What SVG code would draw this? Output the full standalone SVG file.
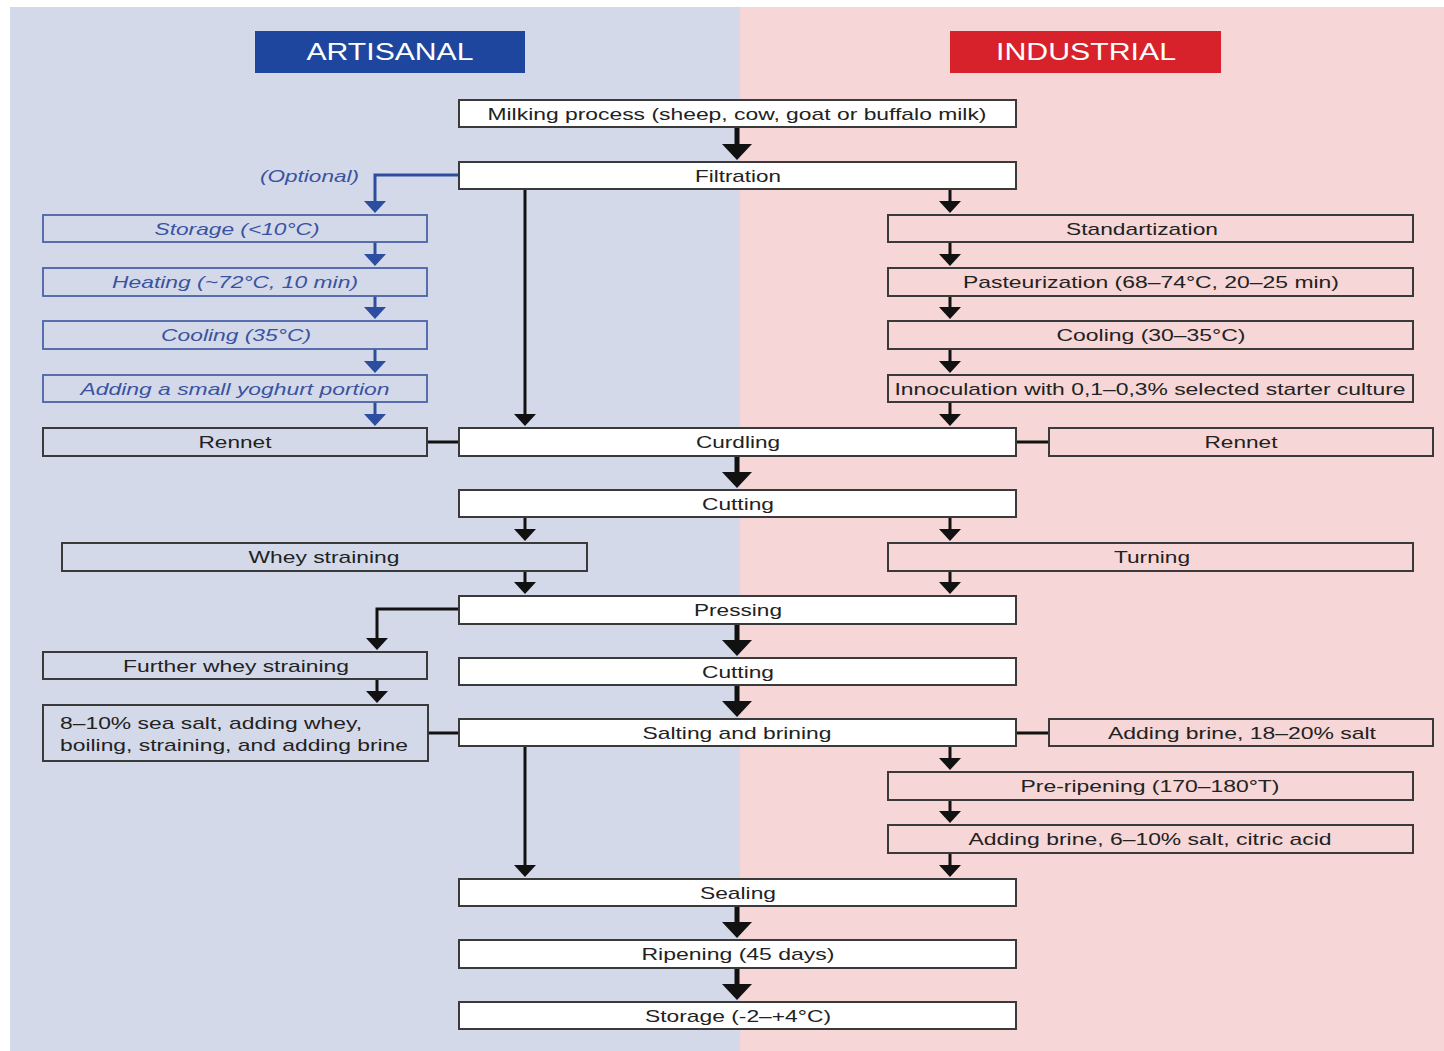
<svg xmlns="http://www.w3.org/2000/svg" width="1444" height="1051" viewBox="0 0 1444 1051">
<style>
text{font-family:"Liberation Sans",Arial,sans-serif;font-size:17px;fill:#222;text-anchor:middle}
.blt{fill:#3a53a0;font-style:italic}
.hd{fill:#fff;font-size:23px}
.wb{fill:#fff;stroke:#3a3a3a;stroke-width:2}
.tb{fill:none;stroke:#3a3a3a;stroke-width:2}
.bb{fill:none;stroke:#4a62a8;stroke-width:1.8}
.s{stroke:#111;stroke-width:3;fill:none}
.b{stroke:#111;stroke-width:5;fill:none}
.bl{stroke:#2d4ea0;stroke-width:3;fill:none}
.s,.bl{marker-end:url(#ah)}
.b{marker-end:url(#ahb)}
.bl{marker-end:url(#ahbl)}
.j{stroke:#111;stroke-width:3}
</style>
<defs>
<marker id="ah" markerUnits="userSpaceOnUse" viewBox="0 -11 12 22" refX="2" refY="0" markerWidth="12" markerHeight="22" orient="auto"><path d="M0,-11 L12,0 L0,11 z" fill="#111"/></marker>
<marker id="ahbl" markerUnits="userSpaceOnUse" viewBox="0 -11 12 22" refX="2" refY="0" markerWidth="12" markerHeight="22" orient="auto"><path d="M0,-11 L12,0 L0,11 z" fill="#2d4ea0"/></marker>
<marker id="ahb" markerUnits="userSpaceOnUse" viewBox="0 -15 16 30" refX="3" refY="0" markerWidth="16" markerHeight="30" orient="auto"><path d="M0,-15 L16,0 L0,15 z" fill="#111"/></marker>
</defs>
<rect x="0" y="0" width="1444" height="1051" fill="#fff"/>
<rect x="10" y="7" width="730" height="1044" fill="#d3d9e9"/>
<rect x="740" y="7" width="704" height="1044" fill="#f6d6d6"/>

<g id="hdr-artisanal"><rect x="255" y="31" width="270" height="42" fill="#1f469e"/><text class="hd" x="390" y="60" textLength="167" lengthAdjust="spacingAndGlyphs">ARTISANAL</text></g>
<g id="hdr-industrial"><rect x="950" y="31" width="271" height="42" fill="#d8222b"/><text class="hd" x="1086" y="60" textLength="180" lengthAdjust="spacingAndGlyphs">INDUSTRIAL</text></g>

<g id="connectors">
<path class="b" d="M737,127 V147"/>
<path class="bl" d="M459,175 H375 V203"/>
<text class="blt" x="359" y="182" style="text-anchor:end" textLength="99" lengthAdjust="spacingAndGlyphs">(Optional)</text>
<path class="bl" d="M375,242 V256"/>
<path class="bl" d="M375,296 V309"/>
<path class="bl" d="M375,349 V363"/>
<path class="bl" d="M375,402 V416"/>
<path class="s" d="M525,189 V416"/>
<path class="s" d="M950,189 V203"/>
<path class="s" d="M950,242 V256"/>
<path class="s" d="M950,296 V309"/>
<path class="s" d="M950,349 V363"/>
<path class="s" d="M950,402 V416"/>
<line class="j" x1="427" y1="442" x2="459" y2="442"/>
<line class="j" x1="1016" y1="442" x2="1049" y2="442"/>
<path class="b" d="M737,456 V475"/>
<path class="s" d="M525,517 V531"/>
<path class="s" d="M950,517 V531"/>
<path class="s" d="M525,571 V584"/>
<path class="s" d="M950,571 V584"/>
<path class="s" d="M459,609 H377 V640"/>
<path class="b" d="M737,624 V643"/>
<path class="s" d="M377,679 V693"/>
<path class="b" d="M737,685 V704"/>
<line class="j" x1="428" y1="733" x2="459" y2="733"/>
<line class="j" x1="1016" y1="733" x2="1049" y2="733"/>
<path class="s" d="M525,746 V867"/>
<path class="s" d="M950,746 V760"/>
<path class="s" d="M950,800 V813"/>
<path class="s" d="M950,853 V867"/>
<path class="b" d="M737,906 V925"/>
<path class="b" d="M737,968 V987"/>
</g>

<g id="milking"><rect class="wb" x="459" y="100" width="557" height="27"/><text x="737" y="119.5" textLength="499" lengthAdjust="spacingAndGlyphs">Milking process (sheep, cow, goat or buffalo milk)</text></g>
<g id="filtration"><rect class="wb" x="459" y="162" width="557" height="27"/><text x="738" y="181.5" textLength="86" lengthAdjust="spacingAndGlyphs">Filtration</text></g>

<g id="storage-a"><rect class="bb" x="43" y="215" width="384" height="27"/><text class="blt" x="237" y="234.5" textLength="165" lengthAdjust="spacingAndGlyphs">Storage (&lt;10°C)</text></g>
<g id="heating-a"><rect class="bb" x="43" y="268" width="384" height="28"/><text class="blt" x="235" y="288" textLength="246" lengthAdjust="spacingAndGlyphs">Heating (~72°C, 10 min)</text></g>
<g id="cooling-a"><rect class="bb" x="43" y="321" width="384" height="28"/><text class="blt" x="236" y="341" textLength="150" lengthAdjust="spacingAndGlyphs">Cooling (35°C)</text></g>
<g id="yoghurt-a"><rect class="bb" x="43" y="375" width="384" height="27"/><text class="blt" x="235" y="394.5" textLength="309" lengthAdjust="spacingAndGlyphs">Adding a small yoghurt portion</text></g>
<g id="rennet-a"><rect class="tb" x="43" y="428" width="384" height="28"/><text x="235" y="448" textLength="73" lengthAdjust="spacingAndGlyphs">Rennet</text></g>

<g id="standartization"><rect class="tb" x="888" y="215" width="525" height="27"/><text x="1142" y="234.5" textLength="152" lengthAdjust="spacingAndGlyphs">Standartization</text></g>
<g id="pasteurization"><rect class="tb" x="888" y="268" width="525" height="28"/><text x="1151" y="288" textLength="376" lengthAdjust="spacingAndGlyphs">Pasteurization (68–74°C, 20–25 min)</text></g>
<g id="cooling-i"><rect class="tb" x="888" y="321" width="525" height="28"/><text x="1151" y="341" textLength="189" lengthAdjust="spacingAndGlyphs">Cooling (30–35°C)</text></g>
<g id="innoculation"><rect class="tb" x="888" y="375" width="525" height="27"/><text x="1150" y="394.5" textLength="511" lengthAdjust="spacingAndGlyphs">Innoculation with 0,1–0,3% selected starter culture</text></g>
<g id="rennet-i"><rect class="tb" x="1049" y="428" width="384" height="28"/><text x="1241" y="448" textLength="73" lengthAdjust="spacingAndGlyphs">Rennet</text></g>

<g id="curdling"><rect class="wb" x="459" y="428" width="557" height="28"/><text x="738" y="448" textLength="84" lengthAdjust="spacingAndGlyphs">Curdling</text></g>
<g id="cutting1"><rect class="wb" x="459" y="490" width="557" height="27"/><text x="738" y="509.5" textLength="72" lengthAdjust="spacingAndGlyphs">Cutting</text></g>
<g id="whey"><rect class="tb" x="62" y="543" width="525" height="28"/><text x="324" y="563" textLength="151" lengthAdjust="spacingAndGlyphs">Whey straining</text></g>
<g id="turning"><rect class="tb" x="888" y="543" width="525" height="28"/><text x="1152" y="563" textLength="76" lengthAdjust="spacingAndGlyphs">Turning</text></g>
<g id="pressing"><rect class="wb" x="459" y="596" width="557" height="28"/><text x="738" y="616" textLength="88" lengthAdjust="spacingAndGlyphs">Pressing</text></g>
<g id="further-whey"><rect class="tb" x="43" y="652" width="384" height="27"/><text x="236" y="671.5" textLength="226" lengthAdjust="spacingAndGlyphs">Further whey straining</text></g>
<g id="cutting2"><rect class="wb" x="459" y="658" width="557" height="27"/><text x="738" y="677.5" textLength="72" lengthAdjust="spacingAndGlyphs">Cutting</text></g>
<g id="sea-salt"><rect class="tb" x="43" y="705" width="385" height="56"/><text x="60" y="729" style="text-anchor:start" textLength="302" lengthAdjust="spacingAndGlyphs">8–10% sea salt, adding whey,</text><text x="60" y="751" style="text-anchor:start" textLength="348" lengthAdjust="spacingAndGlyphs">boiling, straining, and adding brine</text></g>
<g id="salting"><rect class="wb" x="459" y="719" width="557" height="27"/><text x="737" y="738.5" textLength="189" lengthAdjust="spacingAndGlyphs">Salting and brining</text></g>
<g id="brine18"><rect class="tb" x="1049" y="719" width="384" height="27"/><text x="1242" y="738.5" textLength="268" lengthAdjust="spacingAndGlyphs">Adding brine, 18–20% salt</text></g>
<g id="preripening"><rect class="tb" x="888" y="772" width="525" height="28"/><text x="1150" y="792" textLength="259" lengthAdjust="spacingAndGlyphs">Pre-ripening (170–180°T)</text></g>
<g id="brine6"><rect class="tb" x="888" y="825" width="525" height="28"/><text x="1150" y="845" textLength="363" lengthAdjust="spacingAndGlyphs">Adding brine, 6–10% salt, citric acid</text></g>
<g id="sealing"><rect class="wb" x="459" y="879" width="557" height="27"/><text x="738" y="898.5" textLength="76" lengthAdjust="spacingAndGlyphs">Sealing</text></g>
<g id="ripening"><rect class="wb" x="459" y="940" width="557" height="28"/><text x="738" y="960" textLength="193" lengthAdjust="spacingAndGlyphs">Ripening (45 days)</text></g>
<g id="storage"><rect class="wb" x="459" y="1002" width="557" height="27"/><text x="738" y="1021.5" textLength="186" lengthAdjust="spacingAndGlyphs">Storage (-2–+4°C)</text></g>
</svg>
